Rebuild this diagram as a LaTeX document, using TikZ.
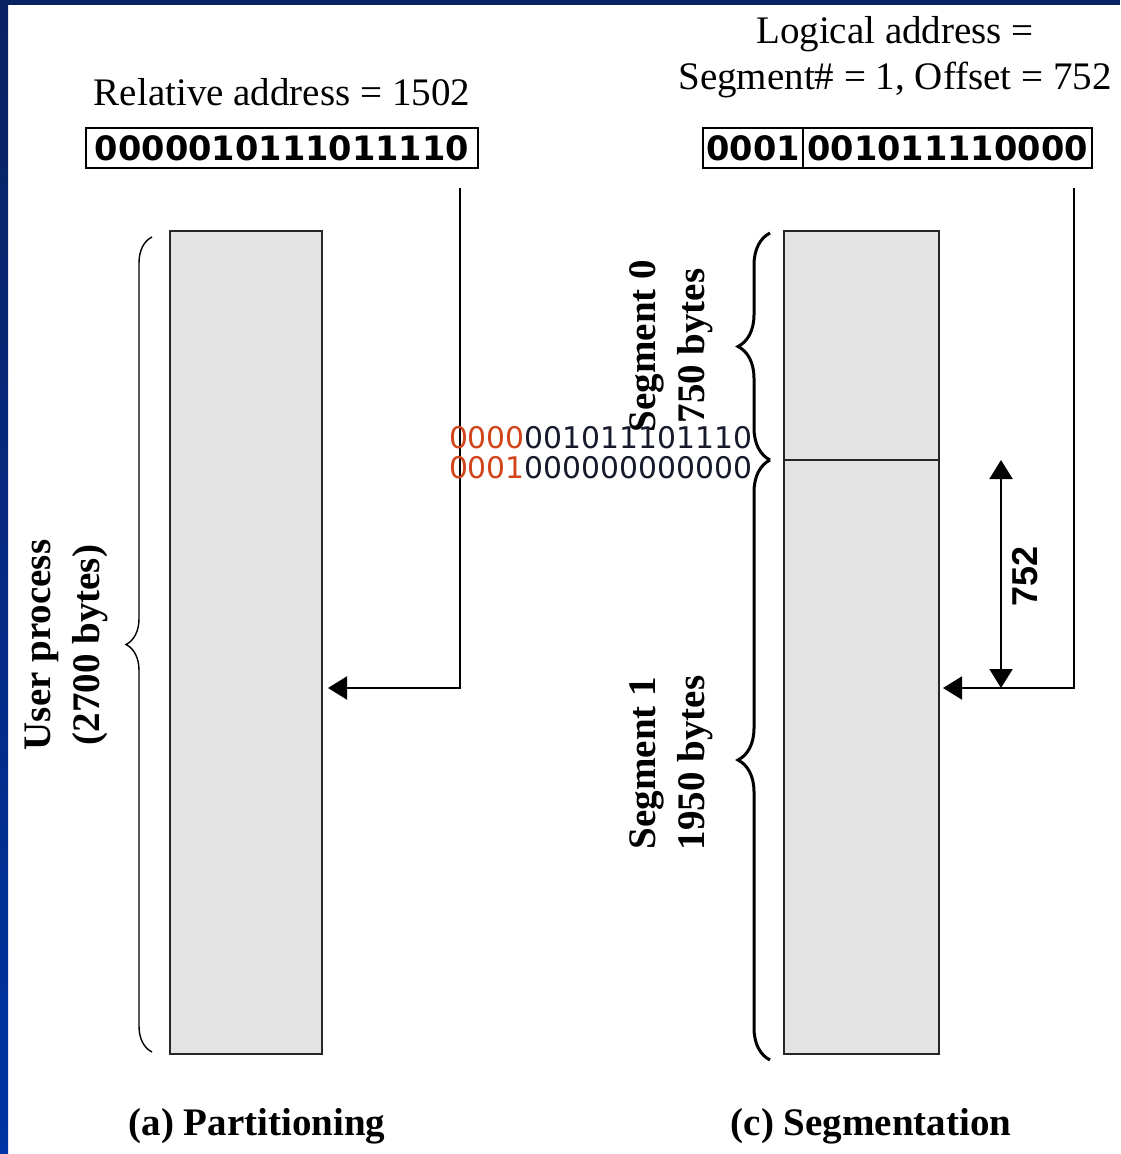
\documentclass[tikz,border=0pt]{standalone}
\usepackage{fontspec}
\setmainfont{Liberation Serif}
\newfontfamily\bitfont{DejaVu Sans}
\newfontfamily\labelsans{Liberation Sans}
\usetikzlibrary{arrows.meta,decorations.pathreplacing,positioning}
\definecolor{FrameNavy}{HTML}{0A2262}
\definecolor{FrameBlue}{HTML}{0033A3}
\definecolor{BlockGray}{HTML}{E3E3E3}
\definecolor{SegRed}{HTML}{D2451A}
\definecolor{DigitInk}{HTML}{161A2A}

\begin{document}
\begin{tikzpicture}[x=0.5pt,y=-0.5pt,
  every node/.style={inner sep=0pt, outer sep=0pt, font=\fontsize{19.5}{23.4}\selectfont},
  memblock/.style={draw=black!85, line width=1.3pt, fill=BlockGray},
  bitbox/.style={draw, line width=1pt, minimum height=20pt, font=\bitfont\bfseries\fontsize{16.8}{20}\selectfont},
  sidelabel/.style={rotate=90, align=center, font=\bfseries\fontsize{19.5}{24.5}\selectfont},
  captext/.style={anchor=base, font=\bfseries\fontsize{19.5}{23.4}\selectfont},
  ptr/.style={line width=1pt, -{Triangle[length=9.5pt,width=11.5pt]}},
  dimptr/.style={line width=1pt, {Triangle[length=9.5pt,width=11.5pt]}-{Triangle[length=9.5pt,width=11.5pt]}},
  thinbrace/.style={decorate, decoration={brace, amplitude=13pt}, line width=0.7pt},
  thickbrace/.style={decorate, decoration={brace, amplitude=16pt}, line width=1.5pt}]
  \useasboundingbox (0,0) rectangle (1120,1154);
  \fill[white] (0,0) rectangle (1120,1154);
  \fill[FrameNavy] (0,0) rectangle (1120,5);
  \shade[top color=FrameNavy, bottom color=FrameBlue] (0,0) rectangle (8,1154);

  \node[memblock, minimum width=76pt, minimum height=411.5pt] (proc) at (246,642.5) {};
  \node[memblock, minimum width=77.5pt, minimum height=114.5pt] (seg0blk) at (861.5,345.5) {};
  \node[memblock, minimum width=77.5pt, minimum height=297pt] (seg1blk) at (861.5,757) {};

  \node[anchor=base] (relhead) at (282,106) {Relative address = 1502};
  \node[bitbox, minimum width=196pt] (relbits) at (282,148) {0000010111011110};
  \node[anchor=base] (loghead) at (895,44) {Logical address =};
  \node[anchor=base] (logvalue) at (895,90) {Segment\# = 1, Offset = 752};
  \node[bitbox, minimum width=50pt] (segbits) at (753,148) {0001};
  \node[bitbox, minimum width=144.5pt, right=0pt of segbits] (offbits) {001011110000};

  \coordinate (relfoot) at (460,188);
  \coordinate (logfoot) at (1074,188);
  \draw[ptr, shorten >=3pt] (relfoot) |- (proc.east |- 0,688);
  \draw[ptr, shorten >=2pt] (logfoot) |- (seg1blk.east |- 0,688);
  \draw[dimptr] (seg1blk.north -| 1001,0) -- (1001,688);
  \node[rotate=90, font=\labelsans\bfseries\fontsize{18}{20}\selectfont] (offlabel) at (1025,576) {752};

  \draw[thinbrace] ([shift={(-9pt,1pt)}]proc.south west) -- ([shift={(-9pt,-3pt)}]proc.north west);
  \draw[thickbrace] ([xshift=-7pt]seg0blk.south west) -- ([shift={(-7pt,-1pt)}]seg0blk.north west);
  \draw[thickbrace] ([shift={(-7pt,-3pt)}]seg1blk.south west) -- ([xshift=-7pt]seg1blk.north west);

  \node[sidelabel] (proclabel) at (66,645) {User process\\(2700 bytes)};
  \node[sidelabel] (seg0label) at (671,346) {Segment 0\\750 bytes};
  \node[sidelabel] (seg1label) at (671,763) {Segment 1\\1950 bytes};

  \foreach \row/\seg/\off in {0/0000/001011101110, 1/0001/000000000000}
    \node[anchor=west, text=DigitInk, font=\bitfont\fontsize{14.9}{18}\selectfont] (bits\row) at (449,438+30*\row) {\textcolor{SegRed}{\seg}\off};

  \node[captext] (partcap) at (257,1135) {(a) Partitioning};
  \node[captext] (segcap) at (871,1135) {(c) Segmentation};
\end{tikzpicture}
\end{document}
